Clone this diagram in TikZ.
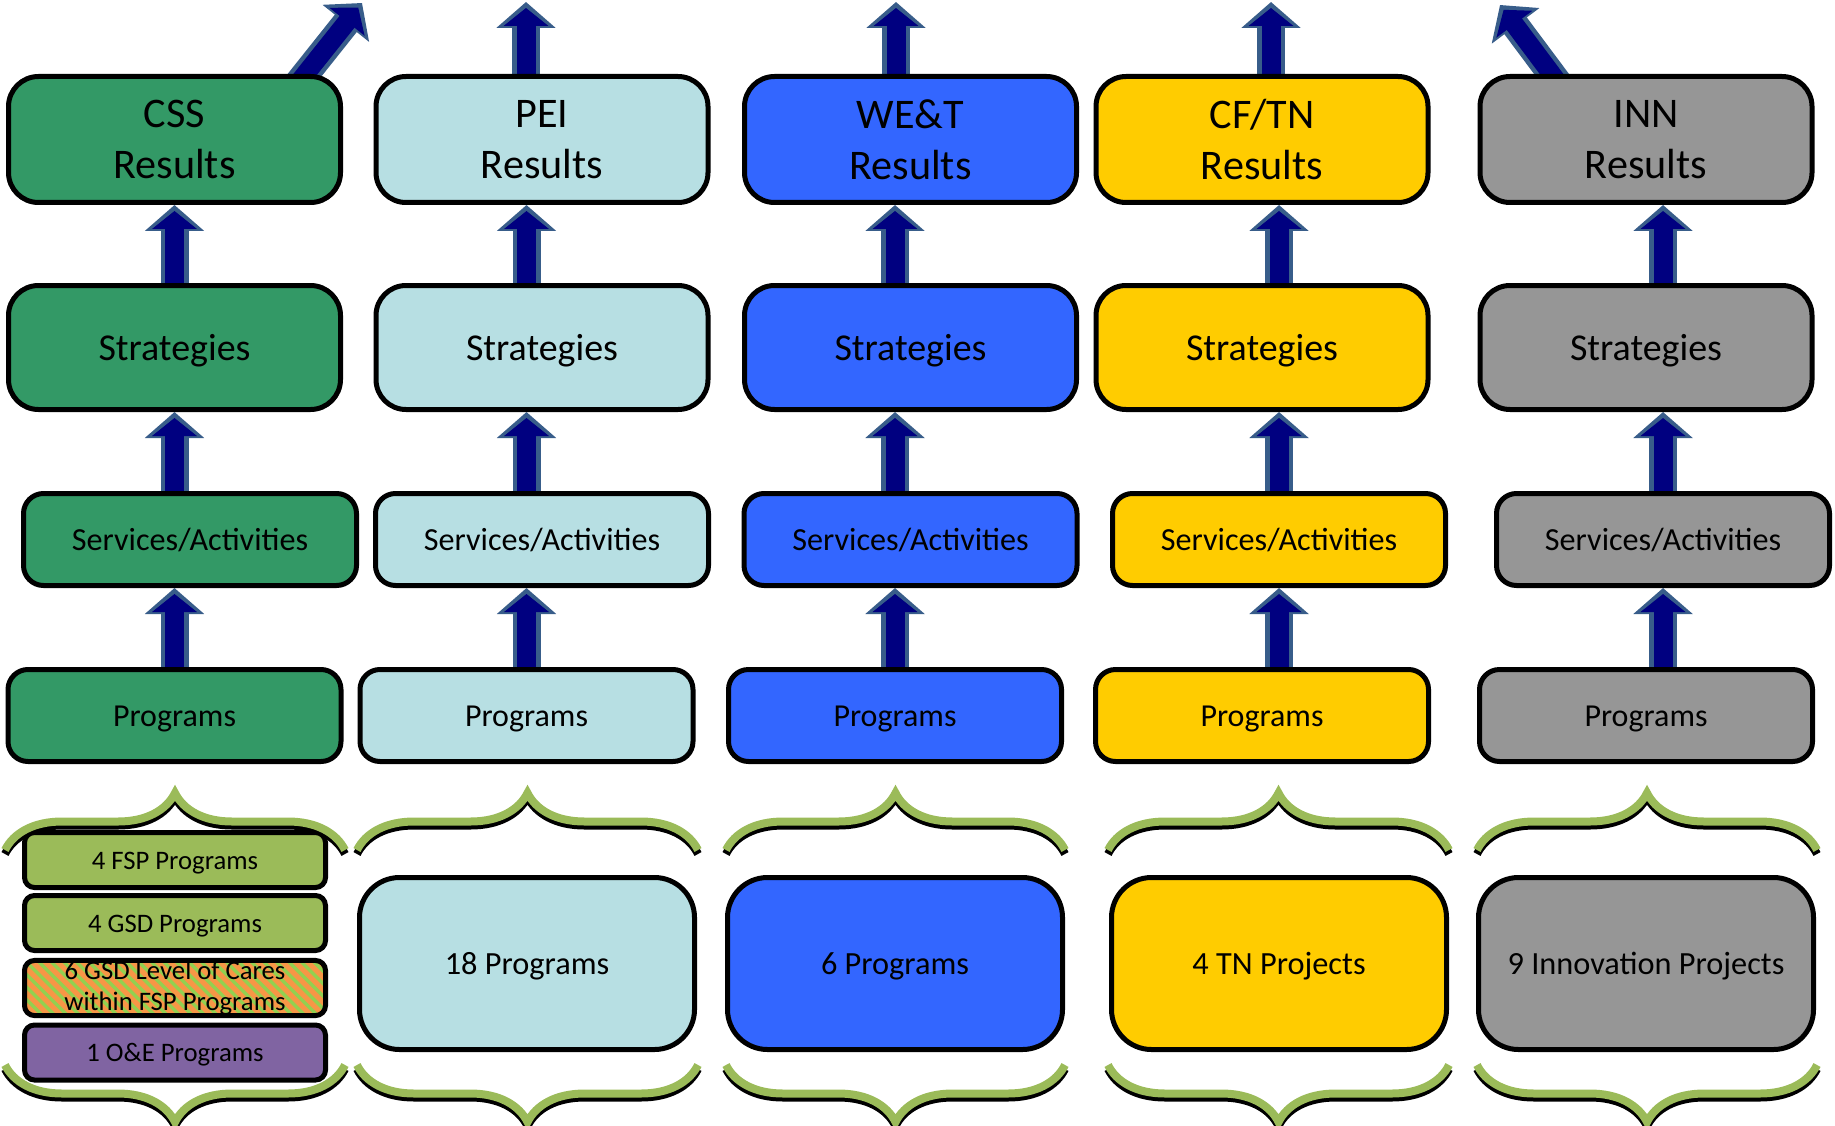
\documentclass[tikz,border=0pt]{standalone}
\usepackage{fontspec}
\setmainfont{Carlito}
\usetikzlibrary{arrows.meta,decorations.pathreplacing,backgrounds,calc}

\definecolor{cssgreen}{RGB}{51,153,102}
\definecolor{peiblue}{RGB}{183,223,227}
\definecolor{wetblue}{RGB}{51,102,255}
\definecolor{cfyellow}{RGB}{255,204,0}
\definecolor{inngray}{RGB}{150,150,150}
\definecolor{fspgreen}{RGB}{155,187,89}
\definecolor{oepurple}{RGB}{128,100,162}
\definecolor{lvlorange}{RGB}{247,150,70}
\definecolor{lvlstripe}{RGB}{146,208,80}
\definecolor{bracegreen}{RGB}{155,187,89}
\definecolor{flownavy}{RGB}{0,0,128}
\definecolor{flowedge}{RGB}{56,93,138}

\newcommand{\upflow}[2]{%
  \draw[flowout] (#1) -- (#2);
  \draw[flowin] (#1) -- (#2);}

\begin{document}
\begin{tikzpicture}[x=0.1mm,y=-0.1mm]
\useasboundingbox (0,0) rectangle (1835,1125);

\tikzset{box/.style={draw=black,line width=0.5mm,rounded corners=3mm,text=black,align=center,inner sep=0pt},}
\tikzset{result/.style={box,minimum width=33.2mm,minimum height=12.6mm,font=\fontsize{12}{14.6}\selectfont},}
\tikzset{strat/.style={box,minimum width=33.2mm,minimum height=12.4mm,text height=7.6pt,text depth=0pt,font=\fontsize{10.8}{13}\selectfont},}
\tikzset{serv/.style={box,rounded corners=2mm,minimum width=33.3mm,minimum height=9.2mm,text height=6.4pt,text depth=0pt,font=\fontsize{9.15}{11}\selectfont},}
\tikzset{prog/.style={serv,font=\fontsize{9.1}{11}\selectfont},}
\tikzset{tally/.style={box,rounded corners=4mm,minimum width=33.5mm,minimum height=17.2mm,text height=6.4pt,text depth=0pt,font=\fontsize{9.2}{11}\selectfont},}
\tikzset{subbox/.style={box,rounded corners=1mm,minimum width=30.1mm,minimum height=5.5mm,font=\fontsize{7.6}{9.1}\selectfont},}
\tikzset{subline/.style={subbox,text height=5.3pt,text depth=0pt},}
\tikzset{flowout/.style={draw=flowedge,line width=2.8mm,-{Triangle[width=5.8mm,length=2.6mm]}},}
\tikzset{flowin/.style={draw=flownavy,line width=1.9mm,-{Triangle[width=4.4mm,length=1.8mm]},shorten >=0.6mm},}
\tikzset{curly/.style={decorate,decoration={brace,amplitude=5.7mm},line width=0.8mm,draw=bracegreen},}
\tikzset{curlyshadow/.style={curly,draw=black,yshift=-0.4mm},}

	\draw
		(174.5,139.5) node[result,fill=cssgreen] (r1) {CSS\\Results}
		(542,139.5) node[result,fill=peiblue] (r2) {PEI\\Results}
		(910.5,139.5) node[result,fill=wetblue] (r3) {WE\&T\\Results}
		(1262,139.5) node[result,fill=cfyellow] (r4) {CF/TN\\Results}
		(1646,139.5) node[result,fill=inngray] (r5) {INN\\Results}

		(174.5,347.5) node[strat,fill=cssgreen] (s1) {Strategies}
		(542,347.5) node[strat,fill=peiblue] (s2) {Strategies}
		(910.5,347.5) node[strat,fill=wetblue] (s3) {Strategies}
		(1262,347.5) node[strat,fill=cfyellow] (s4) {Strategies}
		(1646,347.5) node[strat,fill=inngray] (s5) {Strategies}

		(190,539.5) node[serv,fill=cssgreen] (a1) {Services/Activities}
		(542,539.5) node[serv,fill=peiblue] (a2) {Services/Activities}
		(910.5,539.5) node[serv,fill=wetblue] (a3) {Services/Activities}
		(1279,539.5) node[serv,fill=cfyellow] (a4) {Services/Activities}
		(1663,539.5) node[serv,fill=inngray] (a5) {Services/Activities}

		(174.5,715.5) node[prog,fill=cssgreen] (p1) {Programs}
		(526.5,715.5) node[prog,fill=peiblue] (p2) {Programs}
		(895,715.5) node[prog,fill=wetblue] (p3) {Programs}
		(1262,715.5) node[prog,fill=cfyellow] (p4) {Programs}
		(1646,715.5) node[prog,fill=inngray] (p5) {Programs}

		(175,860) node[subline,fill=fspgreen] (fsp) {4 FSP Programs}
		(175,923) node[subline,fill=fspgreen] (gsd) {4 GSD Programs}
		(175,988) node[subbox,fill=lvlorange,path picture={
			\foreach \k in {-30,...,30}
				\draw[lvlstripe,line width=0.34mm] ($(path picture bounding box.north)+(\k*1.25mm,0)$) -- ++(8mm,-8mm);}] (loc) {6 GSD Level of Cares\\within FSP Programs}
		(175,1052.5) node[subline,fill=oepurple] (oe) {1 O\&E Programs}

		(527,963.5) node[tally,fill=peiblue] (b2) {18 Programs}
		(895,963.5) node[tally,fill=wetblue] (b3) {6 Programs}
		(1279,963.5) node[tally,fill=cfyellow] (b4) {4 TN Projects}
		(1646,963.5) node[tally,fill=inngray] (b5) {9 Innovation Projects}
;

\coordinate (t1) at (362,3);
\coordinate (t2) at (526,2);
\coordinate (t3) at (896,2);
\coordinate (t4) at (1271,2);
\coordinate (t5) at (1500,5);

\begin{scope}[on background layer]
\upflow{p1.center}{p1 |- a1.south}
\upflow{p1 |- a1.center}{s1.south}
\upflow{s1.center}{r1.south}
\upflow{[xshift=12.3mm,yshift=-1mm]r1.north}{t1}

\upflow{p2.center}{p2 |- a2.south}
\upflow{p2 |- a2.center}{p2 |- s2.south}
\upflow{p2 |- s2.center}{p2 |- r2.south}
\upflow{t2 |- r2.center}{t2}

\upflow{p3.center}{p3 |- a3.south}
\upflow{p3 |- a3.center}{p3 |- s3.south}
\upflow{p3 |- s3.center}{p3 |- r3.south}
\upflow{t3 |- r3.center}{t3}

\upflow{a4 |- p4.center}{a4.south}
\upflow{a4.center}{a4 |- s4.south}
\upflow{a4 |- s4.center}{a4 |- r4.south}
\upflow{t4 |- r4.center}{t4}

\upflow{a5 |- p5.center}{a5.south}
\upflow{a5.center}{a5 |- s5.south}
\upflow{a5 |- s5.center}{a5 |- r5.south}
\upflow{[xshift=-8.7mm,yshift=-1mm]r5.north}{t5}
\end{scope}

% braces above and below the program counts
\draw[curlyshadow] (5,850) -- (345,850);\draw[curly] (5,850) -- (345,850);
\draw[curlyshadow] (357,850) -- (698,850);\draw[curly] (357,850) -- (698,850);
\draw[curlyshadow] (726,850) -- (1065,850);\draw[curly] (726,850) -- (1065,850);
\draw[curlyshadow] (1108,850) -- (1449,850);\draw[curly] (1108,850) -- (1449,850);
\draw[curlyshadow] (1477,850) -- (1817,850);\draw[curly] (1477,850) -- (1817,850);

\draw[curlyshadow] (345,1065) -- (5,1065);\draw[curly] (345,1065) -- (5,1065);
\draw[curlyshadow] (698,1065) -- (357,1065);\draw[curly] (698,1065) -- (357,1065);
\draw[curlyshadow] (1065,1065) -- (726,1065);\draw[curly] (1065,1065) -- (726,1065);
\draw[curlyshadow] (1449,1065) -- (1108,1065);\draw[curly] (1449,1065) -- (1108,1065);
\draw[curlyshadow] (1817,1065) -- (1477,1065);\draw[curly] (1817,1065) -- (1477,1065);

\end{tikzpicture}
\end{document}
